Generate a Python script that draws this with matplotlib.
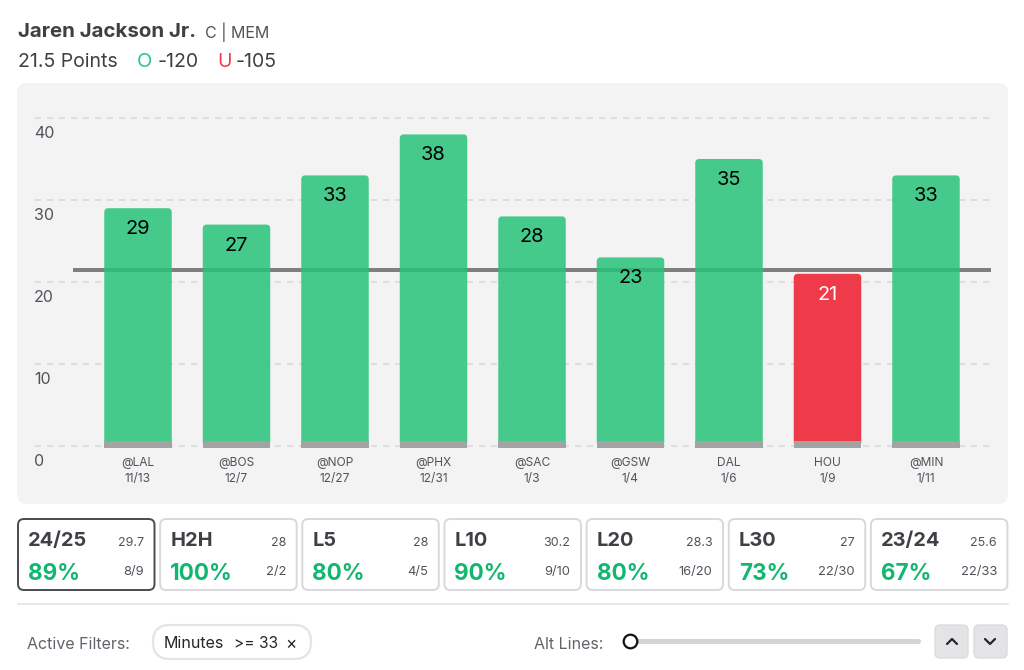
import matplotlib

matplotlib.use("Agg")
import matplotlib.pyplot as plt
from matplotlib.patches import Circle, FancyBboxPatch

plt.rcParams["font.family"] = ["Inter", "DejaVu Sans"]

opponents = ["@LAL", "@BOS", "@NOP", "@PHX", "@SAC", "@GSW", "DAL", "HOU", "@MIN"]
dates = ["11/13", "12/7", "12/27", "12/31", "1/3", "1/4", "1/6", "1/9", "1/11"]
points = [29, 27, 33, 38, 28, 23, 35, 21, 33]
prop_line = 21.5
y_ticks = [0, 10, 20, 30, 40]

card_names = ["24/25", "H2H", "L5", "L10", "L20", "L30", "23/24"]
card_avgs = ["29.7", "28", "28", "30.2", "28.3", "27", "25.6"]
card_pcts = ["89%", "100%", "80%", "90%", "80%", "73%", "67%"]
card_records = ["8/9", "2/2", "4/5", "9/10", "16/20", "22/30", "22/33"]

GREEN = "#27C37A"
RED = "#EF3A49"
DARK = "#3F3F46"
MID = "#52525B"
PCT_GREEN = "#12B76F"

W, H = 1024, 670
fig = plt.figure(figsize=(W / 100, H / 100), dpi=100, facecolor="white")

# page-level axes in pixels, everything that is not the chart goes here
page = fig.add_axes([0, 0, 1, 1], zorder=0)
page.set_xlim(0, W)
page.set_ylim(H, 0)
page.axis("off")


def px(size):
    return size * 0.72


def rbox(x0, y0, x1, y1, r, fc, ec="none", lw=0.0):
    page.add_patch(FancyBboxPatch((x0 + r, y0 + r), x1 - x0 - 2 * r, y1 - y0 - 2 * r,
                                  boxstyle=f"round,pad={r},rounding_size={r}",
                                  fc=fc, ec=ec, lw=lw))


def label(x, y, s, size, color=DARK, ha="left", weight="normal"):
    page.text(x, y, s, fontsize=px(size), color=color, ha=ha, va="center_baseline", fontweight=weight)


# header
label(18, 30, "Jaren Jackson Jr.", 20.5, weight="bold")
label(205, 30, "C | MEM", 16, color=MID)
label(18, 60, "21.5 Points", 19.5)
label(137, 60, "O", 20, color="#2FC98A")
label(158, 60, "-120", 19.5)
label(217, 60, "U", 19.5, color="#EF3A49")
label(236, 60, "-105", 19.5)

# chart panel
rbox(17, 83, 1008, 504, 10, "#F3F3F3")

# chart axes: pixel box x 35..991, y 100..449
x0_px, x_step = 138, 98.5
px_per_unit = 8.2
zero_px = 446
ax_l, ax_r, ax_t, ax_b = 35, 991, 100, 449
ax = fig.add_axes([ax_l / W, 1 - ax_b / H, (ax_r - ax_l) / W, (ax_b - ax_t) / H], zorder=1)
ax.patch.set_alpha(0)
ax.set_xlim((ax_l - x0_px) / x_step, (ax_r - x0_px) / x_step)
ax.set_ylim((zero_px - ax_b) / px_per_unit, (zero_px - ax_t) / px_per_unit)
for side in ax.spines.values():
    side.set_visible(False)

ax.set_yticks([])
ax.set_xticks(range(len(opponents)))
ax.set_xticklabels([f"{o}\n{d}" for o, d in zip(opponents, dates)], fontsize=px(12), color=MID, linespacing=1.45)
ax.tick_params(axis="x", length=0, pad=px(8))

for v in y_ticks:
    ax.plot(ax.get_xlim(), [v, v], color="#DEDEDE", lw=1.5, dashes=(2.88, 2.88), zorder=1)
    ax.annotate(str(v), (ax.get_xlim()[0], v), xytext=(-px(1), -px(13.5)), textcoords="offset points",
                fontsize=px(16), color=MID, ha="left", va="center_baseline", annotation_clip=False)

ax.plot([(73 - x0_px) / x_step, (991 - x0_px) / x_step], [prop_line, prop_line], color="#7F7F7F", lw=px(4),
        solid_capstyle="butt", zorder=2)

half = 33.75 / x_step
r_x = 4 / x_step
aspect = x_step / px_per_unit
for i, p in enumerate(points):
    over = p > prop_line
    ax.add_patch(FancyBboxPatch((i - half + r_x, r_x * aspect), 2 * half - 2 * r_x, p - 2 * r_x * aspect,
                                boxstyle=f"round,pad={r_x},rounding_size={r_x}", mutation_aspect=aspect,
                                fc=GREEN if over else RED, ec="none", alpha=0.85 if over else 1.0, zorder=3))
    ax.annotate(str(p), (i, p), xytext=(0, -px(19)), textcoords="offset points", fontsize=px(20),
                color="black" if over else "white", ha="center", va="center_baseline", zorder=5)

# grey stub at the foot of every bar
ax.bar(range(len(points)), [0.85] * len(points), bottom=-0.25, width=2 * half, color="#A3A3A3", zorder=4)

# stat cards
card_step = 142.15
for i, name in enumerate(card_names):
    x0 = 18 + i * card_step
    x1 = x0 + 136.5
    rbox(x0, 519, x1, 590, 6, "white", ec="#4A4A52" if i == 0 else "#D9D9DC", lw=1.4)
    label(x0 + 10, 539, name, 20, weight="bold")
    label(x1 - 10.5, 541, card_avgs[i], 12.5, color=MID, ha="right")
    label(x0 + 10, 571, card_pcts[i], 22.5, color=PCT_GREEN, weight="bold")
    label(x1 - 10.5, 571, card_records[i], 13, color=MID, ha="right")

page.plot([18, 1008], [604, 604], color="#E4E4E7", lw=1.2)

# footer
label(27, 643, "Active Filters:", 16, color="#63636B")
rbox(153, 625, 311, 659, 17, "white", ec="#E4E4E7", lw=1.6)
label(164, 642, "Minutes", 16, color="#27272A")
label(233.5, 642, ">= 33", 15.5, color="#27272A")
label(285, 642, "×", 17, color="#27272A")

label(534, 643, "Alt Lines:", 16, color="#63636B")
rbox(630, 639, 921, 644, 2.5, "#D4D4D8")
page.add_patch(Circle((630.5, 641.5), 6.8, fc="white", ec="#111111", lw=1.6, zorder=3))

rbox(935, 625, 968, 658, 5, "#E4E4E7", ec="#DCDCDF", lw=1)
rbox(974, 625, 1007, 658, 5, "#E4E4E7", ec="#DCDCDF", lw=1)
page.plot([947, 952, 957], [644, 639, 644], color="#27272A", lw=1.6, solid_capstyle="round")
page.plot([985, 990, 995], [639, 644, 639], color="#27272A", lw=1.6, solid_capstyle="round")

fig.savefig("out.png", dpi=100)
